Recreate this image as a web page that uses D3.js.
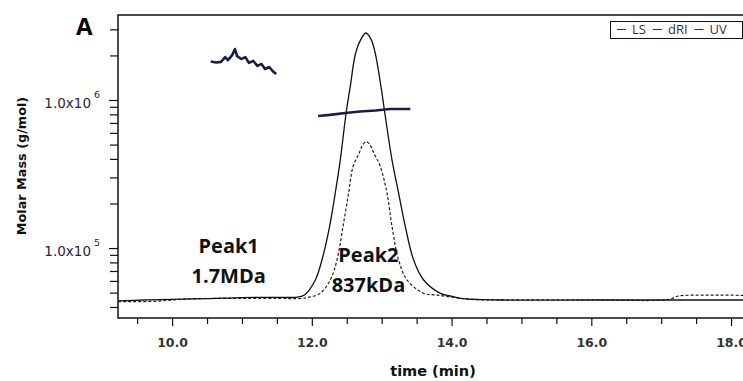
<!DOCTYPE html>
<html>
<head>
<meta charset="utf-8">
<script src="https://cdn.jsdelivr.net/npm/d3@7"></script>
<style>
  body { margin: 0; background: #fff; }
  svg { display: block; }
</style>
</head>
<body>
<svg id="chart" width="743" height="381"></svg>
<script>
// detector traces (relative signal, baseline = 0, LS peak = 1)
const lsTime = [9.23, 9.6, 10.0, 10.5, 11.0, 11.5, 11.8, 11.9, 12.05, 12.145, 12.254, 12.335, 12.407, 12.493, 12.55, 12.626, 12.70, 12.775, 12.85, 12.908, 12.99, 13.042, 13.148, 13.242, 13.338, 13.457, 13.60, 13.84, 13.98, 14.13, 14.7, 16.0, 17.0, 18.5];
const lsSignal = [-0.003, 0.0, 0.002, 0.005, 0.009, 0.010, 0.011, 0.02, 0.075, 0.15, 0.275, 0.40, 0.524, 0.705, 0.799, 0.924, 0.975, 1.0, 0.975, 0.924, 0.799, 0.705, 0.524, 0.40, 0.275, 0.15, 0.075, 0.025, 0.015, 0.006, 0.0, 0.0, 0.0, 0.0];

const driTime = [9.23, 9.75, 10.2, 10.8, 11.5, 11.85, 11.95, 12.12, 12.264, 12.36, 12.446, 12.526, 12.59, 12.676, 12.73, 12.78, 12.83, 12.89, 12.98, 13.076, 13.148, 13.242, 13.362, 13.6, 13.77, 14.0, 14.3, 15.0, 16.0, 17.1, 17.25, 17.6, 18.0, 18.5];
const driSignal = [-0.006, -0.005, 0.004, 0.006, 0.006, 0.006, 0.010, 0.025, 0.075, 0.15, 0.275, 0.40, 0.50, 0.549, 0.582, 0.593, 0.582, 0.549, 0.50, 0.40, 0.275, 0.15, 0.075, 0.025, 0.019, 0.011, 0.002, 0.001, 0.001, 0.002, 0.015, 0.018, 0.018, 0.016];

// molar mass across the peaks (g/mol)
const peak1Time = [10.554, 10.63, 10.70, 10.76, 10.80, 10.86, 10.90, 10.93, 10.99, 11.05, 11.10, 11.16, 11.22, 11.28, 11.33, 11.39, 11.45, 11.49];
const peak1Mass = [1.82e6, 1.79e6, 1.81e6, 1.95e6, 1.86e6, 2.01e6, 2.21e6, 1.98e6, 1.89e6, 1.95e6, 1.78e6, 1.84e6, 1.70e6, 1.75e6, 1.62e6, 1.67e6, 1.55e6, 1.50e6];
const peak2Time = [12.09, 12.26, 12.48, 12.69, 12.91, 13.12, 13.41];
const peak2Mass = [7.79e5, 7.93e5, 8.17e5, 8.36e5, 8.49e5, 8.69e5, 8.69e5];

const xMajorTicks = [10, 12, 14, 16, 18];
const xMinorTicks = [9.5, 10.5, 11, 11.5, 12.5, 13, 13.5, 14.5, 15, 15.5, 16.5, 17, 17.5];
const yMajorTicks = [1e5, 1e6];
const yMinorTicks = [4e4, 5e4, 6e4, 7e4, 8e4, 9e4, 2e5, 3e5, 4e5, 5e5, 6e5, 7e5, 8e5, 9e5, 2e6, 3e6];
const legendLabels = ['LS', 'dRI', 'UV'];
const peakNames = ['Peak1', 'Peak2'];
const peakLabels = ['1.7MDa', '837kDa'];
const peakLabelTime = [10.81, 12.81];

const svg = d3.select('#chart');
const plot = {left: 118, top: 15, bottom: 318, right: 766};

const x = d3.scaleLinear().domain([9.226, 18.5]).range([plot.left, plot.right]);
const y = d3.scaleLog().domain([3.37e4, 3.75e6]).range([plot.bottom, plot.top]);
const sig = d3.scaleLinear().domain([-0.0674, 1.0674]).range([plot.bottom, plot.top]);

svg.append('defs').append('clipPath').attr('id', 'clip')
  .append('rect')
  .attr('x', plot.left).attr('y', plot.top)
  .attr('width', plot.right - plot.left).attr('height', plot.bottom - plot.top);

// frame
svg.append('path')
  .attr('d', `M${plot.right},${plot.top}H${plot.left}V${plot.bottom}H${plot.right}`)
  .attr('fill', 'none').attr('stroke', '#111').attr('stroke-width', 1.5);

// x axis
const xAxis = svg.append('g').attr('transform', `translate(0,${plot.bottom})`);
xAxis.call(d3.axisBottom(x).tickValues(xMajorTicks).tickSize(8).tickFormat(d3.format('.1f')));
xAxis.select('.domain').remove();
xAxis.selectAll('text')
  .attr('y', 20)
  .style('font-family', 'DejaVu Sans').style('font-size', '12.5px').style('font-weight', 'bold').attr('fill', '#333');
svg.append('g').attr('transform', `translate(0,${plot.bottom})`)
  .call(d3.axisBottom(x).tickValues(xMinorTicks).tickSize(6).tickFormat(''))
  .select('.domain').remove();

// y axis
const yAxis = svg.append('g').attr('transform', `translate(${plot.left},0)`);
yAxis.call(d3.axisLeft(y).tickValues(yMajorTicks).tickSize(9).tickFormat(''));
yAxis.select('.domain').remove();
svg.append('g').attr('transform', `translate(${plot.left},0)`)
  .call(d3.axisLeft(y).tickValues(yMinorTicks).tickSize(8).tickFormat(''))
  .select('.domain').remove();
svg.selectAll('.tick line').attr('stroke', '#111').attr('stroke-width', 1.2);

svg.append('g').selectAll('text')
  .data(yMajorTicks).enter().append('text')
  .attr('x', 91)
  .attr('y', d => y(d) + 8)
  .attr('text-anchor', 'end')
  .style('font-family', 'DejaVu Sans').style('font-size', '13.5px')
  .attr('fill', '#2a2636')
  .text('1.0x10');
svg.append('g').selectAll('text')
  .data(yMajorTicks).enter().append('text')
  .attr('x', 94)
  .attr('y', d => y(d) - 2)
  .style('font-family', 'DejaVu Sans').style('font-size', '9.5px')
  .attr('fill', '#2a2636')
  .text(d => Math.round(Math.log10(d)));

// axis titles
svg.append('text')
  .attr('x', 433).attr('y', 376)
  .attr('text-anchor', 'middle')
  .style('font-family', 'DejaVu Sans').style('font-size', '14.5px').style('font-weight', 'bold')
  .attr('fill', '#111')
  .text('time (min)');
svg.append('text')
  .attr('transform', 'translate(26,166) rotate(-90)')
  .attr('text-anchor', 'middle')
  .style('font-family', 'DejaVu Sans').style('font-size', '12.8px').style('font-weight', 'bold')
  .attr('fill', '#111')
  .text('Molar Mass (g/mol)');

// panel letter
svg.append('text')
  .attr('x', 76).attr('y', 35)
  .style('font-family', 'Open Sans').style('font-size', '24px').style('font-weight', 'bold')
  .attr('fill', '#000')
  .text('A');

// traces
const g = svg.append('g').attr('clip-path', 'url(#clip)');
const sigLine = d3.line().x(d => x(d[0])).y(d => sig(d[1])).curve(d3.curveCatmullRom.alpha(0.5));
const massLine = d3.line().x(d => x(d[0])).y(d => y(d[1]));

g.append('path')
  .datum(d3.zip(driTime, driSignal))
  .attr('d', sigLine)
  .attr('fill', 'none').attr('stroke', '#222').attr('stroke-width', 1.2)
  .attr('stroke-dasharray', '3,2');
g.append('path')
  .datum(d3.zip(lsTime, lsSignal))
  .attr('d', sigLine)
  .attr('fill', 'none').attr('stroke', '#111').attr('stroke-width', 1.3);

[[peak1Time, peak1Mass], [peak2Time, peak2Mass]].forEach(([t, m]) => {
  g.append('path')
    .datum(d3.zip(t, m))
    .attr('d', massLine)
    .attr('fill', 'none').attr('stroke', '#1b1d48').attr('stroke-width', 2.6)
    .attr('stroke-linejoin', 'round');
});

// peak annotations
const ann = svg.append('g')
  .style('font-family', 'Open Sans').style('font-size', '20px').style('font-weight', 'bold')
  .attr('fill', '#111').attr('text-anchor', 'middle');
ann.selectAll('.pname').data(peakNames).enter().append('text')
  .attr('x', (d, i) => x(peakLabelTime[i]))
  .attr('y', (d, i) => i === 0 ? 253 : 262)
  .text(d => d);
ann.selectAll('.plab').data(peakLabels).enter().append('text')
  .attr('x', (d, i) => x(peakLabelTime[i]))
  .attr('y', (d, i) => i === 0 ? 283 : 292)
  .text(d => d);

// legend
const leg = svg.append('g');
leg.append('rect')
  .attr('x', 610.5).attr('y', 21.5).attr('width', 132).attr('height', 17)
  .attr('fill', '#fff').attr('stroke', '#111').attr('stroke-width', 1);
let lx = 617;
legendLabels.forEach(name => {
  leg.append('line')
    .attr('x1', lx).attr('x2', lx + 9).attr('y1', 29.5).attr('y2', 29.5)
    .attr('stroke', '#333').attr('stroke-width', 1);
  const t = leg.append('text')
    .attr('x', lx + 15).attr('y', 34)
    .style('font-family', 'Open Sans').style('font-size', '13px')
    .attr('fill', '#333')
    .text(name);
  lx += 15 + t.node().getComputedTextLength() + 7;
});
</script>
</body>
</html>
